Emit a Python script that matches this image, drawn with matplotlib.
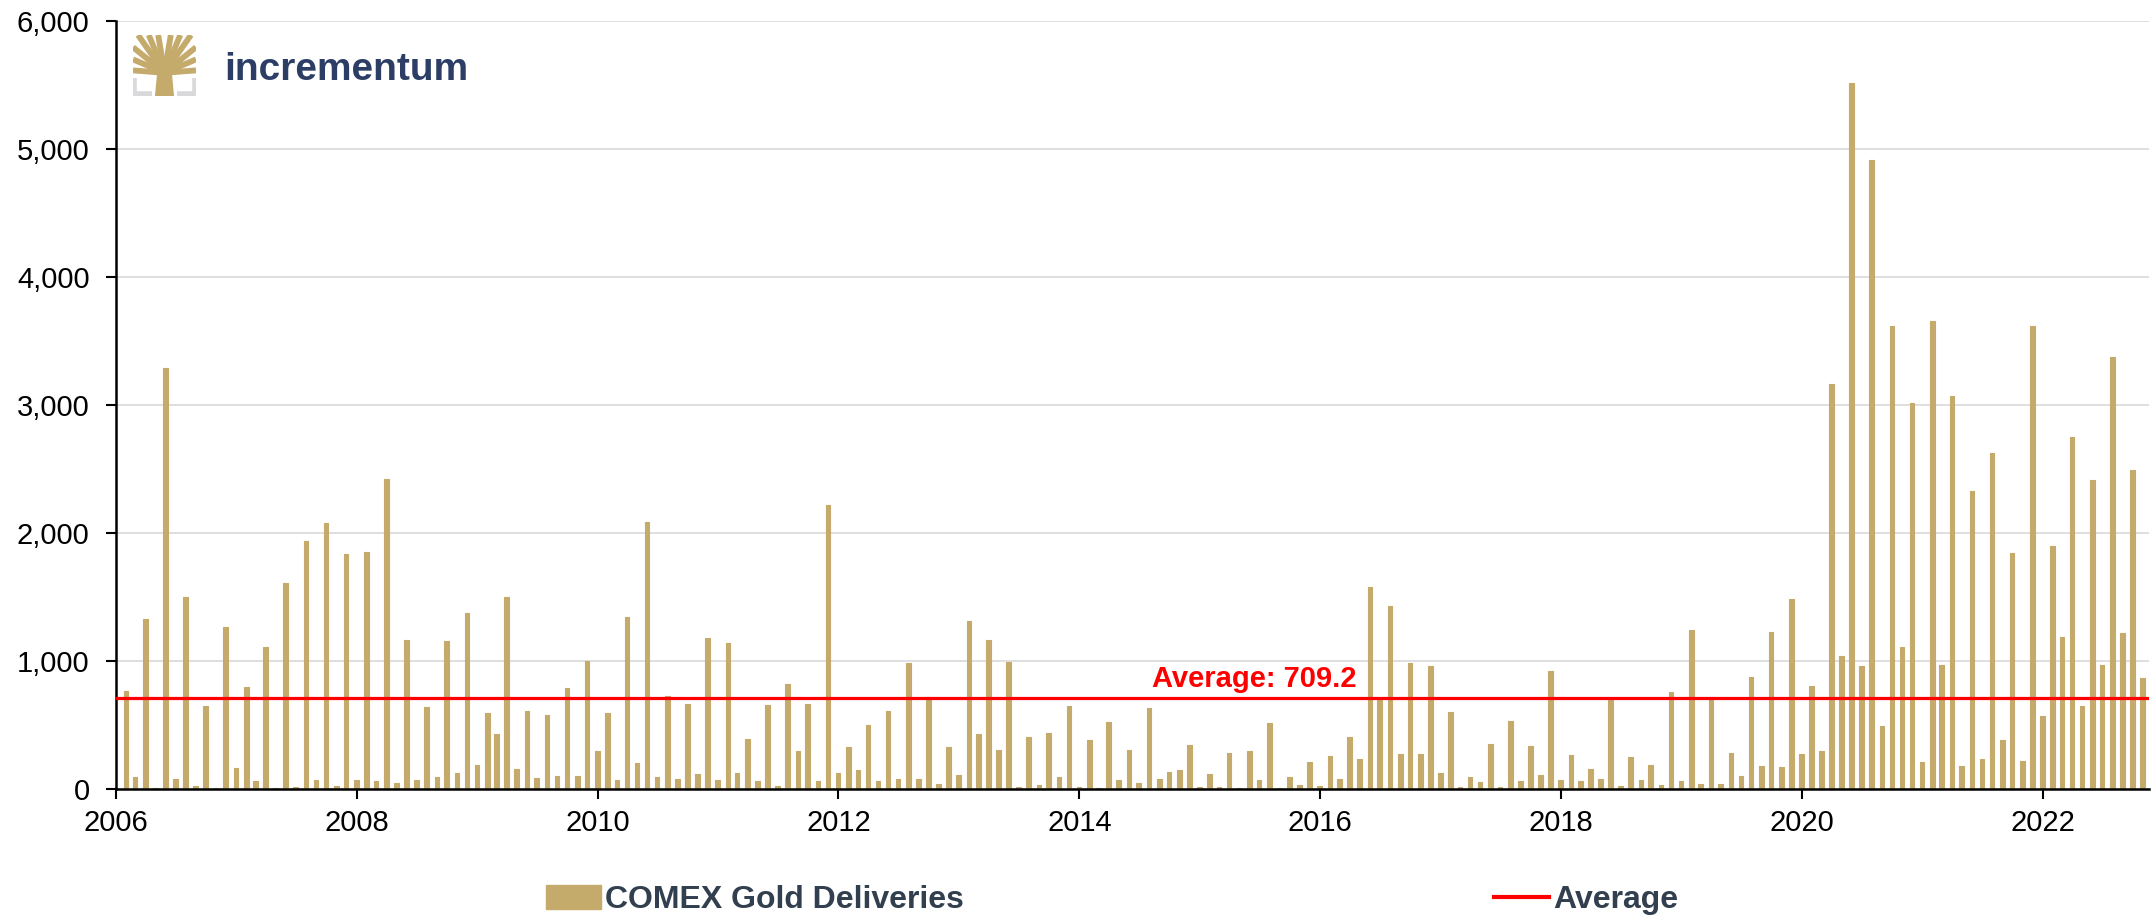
import matplotlib
matplotlib.use("Agg")
from matplotlib import pylab as plt
import matplotlib.dates as mdates
from matplotlib.patches import Patch, Polygon
from matplotlib.lines import Line2D
from matplotlib.ticker import FuncFormatter
import pandas as pd

# monthly COMEX gold deliveries
y2006 = [767, 98, 1331, 10, 3290, 82, 1498, 25, 653, 12, 1265, 163]
y2007 = [800, 65, 1114, 12, 1612, 20, 1935, 73, 2082, 25, 1837, 70]
y2008 = [1853, 61, 2424, 53, 1167, 73, 645, 98, 1155, 130, 1380, 188]
y2009 = [596, 433, 1502, 155, 608, 86, 580, 106, 788, 106, 1004, 302]
y2010 = [596, 73, 1347, 208, 2090, 94, 727, 82, 669, 122, 1184, 73]
y2011 = [1143, 130, 392, 61, 661, 25, 824, 302, 665, 61, 2216, 127]
y2012 = [327, 147, 502, 61, 612, 82, 988, 82, 718, 45, 331, 114]
y2013 = [1314, 429, 1167, 310, 992, 20, 412, 33, 441, 94, 653, 20]
y2014 = [388, 12, 522, 73, 306, 53, 637, 82, 135, 151, 343, 20]
y2015 = [122, 20, 286, 12, 302, 73, 514, 12, 98, 33, 212, 29]
y2016 = [261, 82, 408, 233, 1580, 700, 1433, 273, 984, 273, 963, 130]
y2017 = [600, 20, 94, 55, 351, 20, 531, 61, 339, 114, 922, 73]
y2018 = [265, 61, 155, 82, 694, 29, 249, 69, 192, 33, 759, 61]
y2019 = [1241, 45, 718, 45, 286, 106, 873, 184, 1229, 176, 1482, 278]
y2020 = [808, 298, 3167, 1037, 5514, 963, 4910, 498, 3616, 1110, 3012, 212]
y2021 = [3653, 971, 3069, 180, 2327, 237, 2624, 384, 1845, 220, 3616, 576]
y2022 = [1902, 1188, 2747, 649, 2412, 967, 3376, 1224, 2490, 869]

average = 709.2
year_ticks = list(range(2006, 2023, 2))

deliveries = (y2006 + y2007 + y2008 + y2009 + y2010 + y2011 + y2012 + y2013 + y2014
              + y2015 + y2016 + y2017 + y2018 + y2019 + y2020 + y2021 + y2022)
dates = pd.date_range("2006-01-31", periods=len(deliveries), freq="ME")
df = pd.DataFrame({"date": dates, "deliveries": deliveries})

gold = "#C4AA6B"
navy = "#2C3E66"
slate = "#323F4F"

plt.rcParams["font.family"] = ["Liberation Sans", "DejaVu Sans"]

fig = plt.figure(figsize=(21.51, 9.18), dpi=100)
ax = fig.add_axes([116 / 2151, 1 - 789.3 / 918, (2149 - 116) / 2151, (789.3 - 20.7) / 918])

ax.bar(df["date"], df["deliveries"], width=14, color=gold, edgecolor=gold,
       linewidth=0.8, joinstyle="round", zorder=2)
ax.axhline(average, color="#FF0000", linewidth=2.3, zorder=3)
ax.annotate(f"Average: {average}", xy=(pd.Timestamp("2015-06-15"), average),
            xytext=(0, 4), textcoords="offset points", ha="center", va="bottom",
            color="#FF0000", fontsize=21, fontweight="bold", zorder=4)

ax.set_ylim(0, 6000)
ax.set_xlim(pd.Timestamp("2006-01-01"), pd.Timestamp("2022-11-19"))
ax.set_yticks(range(0, 6001, 1000))
ax.yaxis.set_major_formatter(FuncFormatter(lambda v, p: f"{int(v):,}"))
ax.set_xticks([pd.Timestamp(f"{y}-01-01") for y in year_ticks])
ax.xaxis.set_major_formatter(mdates.DateFormatter("%Y"))
ax.tick_params(axis="both", labelsize=21, length=7, width=1.5, color="black")
ax.tick_params(axis="y", pad=12)
ax.tick_params(axis="x", pad=7)
ax.grid(axis="y", color="#D9D9D9", linewidth=1.2, zorder=0)
ax.set_axisbelow(True)
for s in ["top", "right"]:
    ax.spines[s].set_visible(False)
ax.spines["left"].set_linewidth(1.8)
ax.spines["bottom"].set_linewidth(1.8)

# legend
handles = [Patch(facecolor=gold, edgecolor=gold),
           Line2D([0], [0], color="#FF0000", linewidth=3)]
leg = fig.legend(handles, ["COMEX Gold Deliveries", "Average"], ncol=2,
                 loc="center left", bbox_to_anchor=(530 / 2151, 1 - 900 / 918),
                 frameon=False, borderpad=0, handlelength=1.72, handleheight=0.75,
                 handletextpad=0.13, columnspacing=16.6,
                 prop={"size": 23, "weight": "bold"})
for t in leg.get_texts():
    t.set_color(slate)

# incrementum logo
fig.text(224 / 2151, 1 - 80 / 918, "incrementum", fontsize=28, fontweight="bold",
         color=navy, va="baseline", ha="left")
lax = fig.add_axes([133 / 2151, 1 - 96 / 918, 63 / 2151, 61 / 918])
lax.set_xlim(0, 1)
lax.set_ylim(0, 1)
lax.axis("off")
grey = "#D9D9DC"
lax.plot([0.02, 0.02, 0.3], [0.3, 0.03, 0.03], color=grey, linewidth=4, solid_capstyle="butt")
lax.plot([0.7, 0.98, 0.98], [0.03, 0.03, 0.3], color=grey, linewidth=4, solid_capstyle="butt")
lax.add_patch(Polygon([[0.36, 0.0], [0.64, 0.0], [0.6, 0.45], [0.4, 0.45]], closed=True, color=gold))
for x1, y1 in [(0.0, 0.42), (0.0, 0.6), (0.0, 0.8), (0.08, 1.0), (0.25, 1.0), (0.4, 1.0),
               (0.6, 1.0), (0.75, 1.0), (0.92, 1.0), (1.0, 0.8), (1.0, 0.6), (1.0, 0.42)]:
    lax.plot([0.5, x1], [0.38, y1], color=gold, linewidth=4.2, solid_capstyle="butt")

plt.savefig("out.png", dpi=100)
